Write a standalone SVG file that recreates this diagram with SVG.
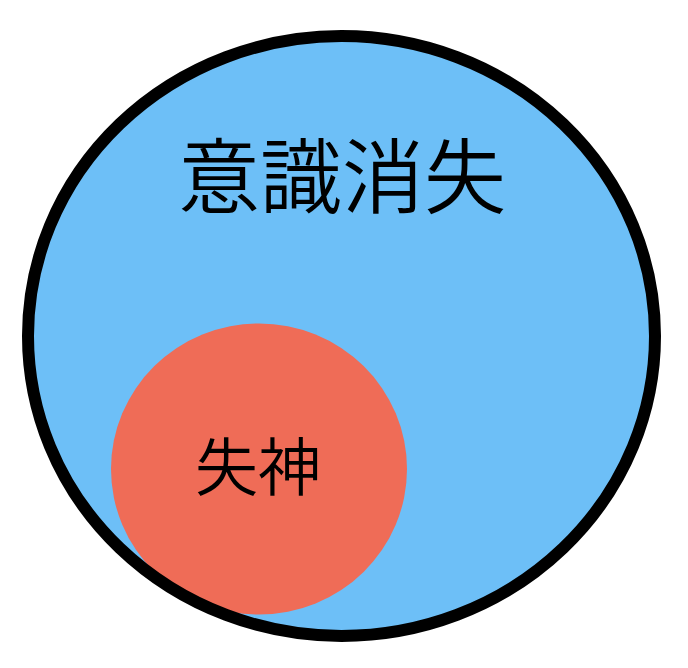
<svg xmlns="http://www.w3.org/2000/svg" width="688" height="668" viewBox="0 0 688 668">
<style>
.lbl{font-family:"Noto Sans CJK JP","Noto Sans CJK SC",sans-serif;font-weight:350;fill:#000;text-anchor:middle;dominant-baseline:central}
</style>
<rect width="688" height="668" fill="#fff"/>
<g id="node-ishikishoshitsu">
<ellipse cx="341.5" cy="336" rx="313.5" ry="300" fill="#6DBFF7"/>
</g>
<g id="node-shisshin">
<ellipse cx="259" cy="469" rx="148" ry="145.5" fill="#EF6C57"/>
<text class="lbl" x="258" y="462" font-size="63">失神</text>
</g>
<g id="node-ishikishoshitsu-outline">
<ellipse cx="341.5" cy="336" rx="313.5" ry="300" fill="none" stroke="#000" stroke-width="12"/>
<text class="lbl" x="342" y="171" font-size="82">意識消失</text>
</g>
<g id="connectors"></g>
</svg>
